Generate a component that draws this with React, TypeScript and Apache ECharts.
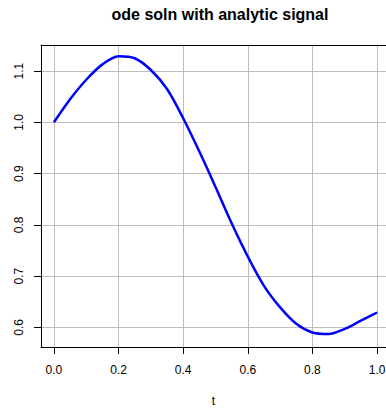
import React, { useEffect, useRef } from "react";
import * as echarts from "echarts";

// time grid and the ODE solution sampled along it
const tValues = [0, 0.05, 0.1, 0.15, 0.2, 0.25, 0.3, 0.35, 0.4, 0.45, 0.5, 0.55, 0.6, 0.65, 0.7, 0.75, 0.8, 0.85, 0.9, 0.95, 1.0];
const solution = [1.0, 1.045, 1.083, 1.113, 1.129, 1.125, 1.102, 1.065, 1.008, 0.943, 0.874, 0.803, 0.738, 0.681, 0.639, 0.607, 0.59, 0.587, 0.597, 0.613, 0.629];

const xTicks = [0, 0.2, 0.4, 0.6, 0.8, 1.0];
const yTicks = [0.6, 0.7, 0.8, 0.9, 1.0, 1.1];

const FONT = "'Liberation Sans', Arial, Helvetica, sans-serif";

export default function App() {
  const ref = useRef<HTMLDivElement>(null);

  useEffect(() => {
    if (!ref.current) return;
    const chart = echarts.init(ref.current, undefined, { renderer: "svg" });
    const blackLine = { show: true, onZero: false, lineStyle: { color: "#000", width: 1 } };
    const gridLine = { show: true, lineStyle: { color: "#bebebe", width: 1 } };
    chart.setOption({
      animation: false,
      backgroundColor: "#fff",
      title: {
        text: "ode soln with analytic signal",
        left: 215,
        top: 1,
        textAlign: "center",
        textStyle: { fontFamily: FONT, fontSize: 16, fontWeight: "bold", color: "#000" },
      },
      grid: { left: 41, top: 45, width: 345, height: 302, show: false, outerBoundsMode: "none", containLabel: false },
      xAxis: [
        {
          type: "value",
          min: -0.04,
          max: 1.0276,
          name: "t",
          nameLocation: "middle",
          nameGap: 48,
          nameTextStyle: { fontFamily: FONT, fontSize: 12, color: "#000" },
          axisLine: blackLine,
          axisTick: { show: true, inside: false, length: 7, customValues: xTicks, lineStyle: { color: "#000" } },
          axisLabel: {
            customValues: xTicks,
            margin: 17,
            fontFamily: FONT,
            fontSize: 12,
            color: "#000",
            formatter: (v: number) => v.toFixed(1),
          },
          splitLine: gridLine,
        },
        {
          // plain top frame line
          type: "value",
          position: "top",
          min: -0.04,
          max: 1.0276,
          axisLine: blackLine,
          axisTick: { show: false },
          axisLabel: { show: false },
          splitLine: { show: false },
        },
      ],
      yAxis: {
        type: "value",
        min: 0.5617,
        max: 1.1508,
        axisLine: blackLine,
        axisTick: { show: true, inside: false, length: 7, customValues: yTicks, lineStyle: { color: "#000" } },
        axisLabel: {
          customValues: yTicks,
          rotate: 90,
          margin: 16,
          fontFamily: FONT,
          fontSize: 12,
          color: "#000",
          formatter: (v: number) => v.toFixed(1),
        },
        splitLine: gridLine,
      },
      series: [
        {
          type: "line",
          xAxisIndex: 0,
          data: tValues.map((t, i) => [t, solution[i]]),
          smooth: 0.3,
          showSymbol: false,
          lineStyle: { color: "#0000ff", width: 2.5 },
          z: 5,
        },
      ],
    });
    return () => chart.dispose();
  }, []);

  return (
    <div style={{ position: "fixed", left: 0, top: 0, width: 386, height: 409, overflow: "hidden" }}>
      <div ref={ref} style={{ width: 386, height: 409 }} />
    </div>
  );
}
